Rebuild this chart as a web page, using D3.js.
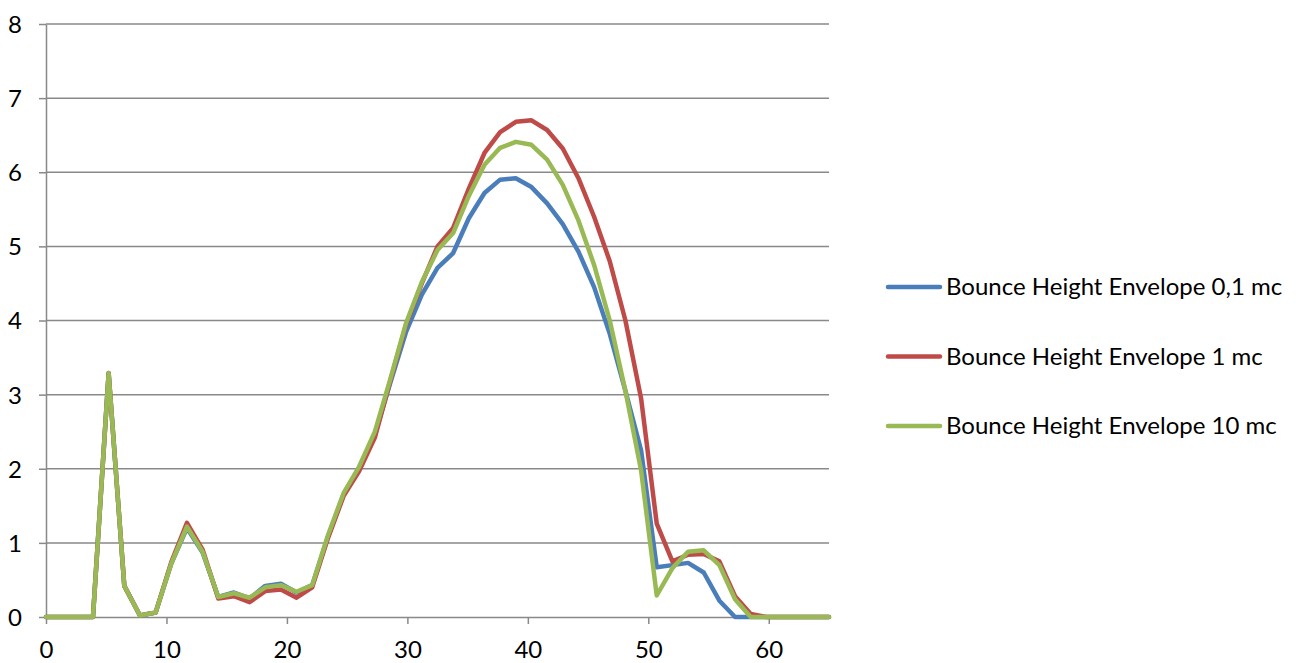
<!DOCTYPE html>
<html>
<head>
<meta charset="utf-8">
<script src="https://cdn.jsdelivr.net/npm/d3@7"></script>
<style>
    body { margin: 0; background: #fff; }
    svg { display: block; font-family: Lato, "Noto Sans", sans-serif; }
    .grid line { stroke: #898989; stroke-width: 1.5; }
    .axis path, .axis line { stroke: #898989; stroke-width: 1.5; }
    .axis text { font-family: Lato, "Noto Sans", sans-serif; font-size: 24px; fill: #000; }
    .legend text { font-size: 24px; fill: #000; }
</style>
</head>
<body>
<svg id="chart" width="1304" height="663"></svg>
<script>
// x positions: one sample every 1.3 units, 0 .. 65
var step = 1.3;
var seriesNames = ["Bounce Height Envelope 0,1 mc", "Bounce Height Envelope 1 mc", "Bounce Height Envelope 10 mc"];
var seriesColors = ["#4a7ebb", "#be4b48", "#98b954"];

var env01 = [0, 0, 0, 0, 3.29, 0.42, 0.02, 0.06, 0.72, 1.2, 0.87, 0.27, 0.33, 0.25, 0.42, 0.45,
    0.33, 0.43, 1.08, 1.65, 2.02, 2.46, 3.17, 3.85, 4.35, 4.71, 4.91, 5.38, 5.72, 5.9,
    5.92, 5.8, 5.58, 5.3, 4.93, 4.45, 3.82, 3.05, 2.25, 0.67, 0.7, 0.73, 0.6, 0.22, 0,
    0, 0, 0, 0, 0, 0];
var env1 = [0, 0, 0, 0, 3.29, 0.42, 0.02, 0.06, 0.74, 1.27, 0.91, 0.25, 0.28, 0.2, 0.35, 0.37,
    0.26, 0.4, 1.06, 1.63, 1.97, 2.42, 3.2, 3.95, 4.5, 5.0, 5.25, 5.78, 6.26, 6.54,
    6.68, 6.7, 6.57, 6.32, 5.92, 5.4, 4.8, 4.0, 2.95, 1.26, 0.75, 0.84, 0.85, 0.75, 0.28,
    0.04, 0, 0, 0, 0, 0];
var env10 = [0, 0, 0, 0, 3.29, 0.42, 0.02, 0.06, 0.72, 1.22, 0.88, 0.27, 0.32, 0.26, 0.4, 0.43,
    0.34, 0.43, 1.1, 1.67, 2.03, 2.5, 3.22, 3.97, 4.52, 4.95, 5.18, 5.68, 6.1, 6.33,
    6.41, 6.37, 6.17, 5.83, 5.35, 4.75, 4.0, 3.05, 1.98, 0.29, 0.66, 0.88, 0.9, 0.7, 0.24,
    0, 0, 0, 0, 0, 0];

var xTicks = [0, 10, 20, 30, 40, 50, 60];
var yTicks = [0, 1, 2, 3, 4, 5, 6, 7, 8];

var svg = d3.select("#chart");
var margin = {left: 46, right: 475, top: 24, bottom: 46};
var width = +svg.attr("width") - margin.left - margin.right;
var height = +svg.attr("height") - margin.top - margin.bottom;

var x = d3.scaleLinear().domain([0, 65]).range([0, width]);
var y = d3.scaleLinear().domain([0, 8]).range([height, 0]);

var g = svg.append("g").attr("transform", "translate(" + margin.left + "," + margin.top + ")");

// horizontal gridlines
g.append("g").attr("class", "grid")
    .selectAll("line").data(yTicks.slice(1)).enter().append("line")
    .attr("x1", 0).attr("x2", width)
    .attr("y1", function (d) { return y(d); })
    .attr("y2", function (d) { return y(d); });

var yAxis = g.append("g").attr("class", "axis")
    .call(d3.axisLeft(y).tickValues(yTicks).tickSize(7).tickPadding(17).tickSizeOuter(0));
yAxis.selectAll("text").attr("dy", "0.35em");

var xAxis = g.append("g").attr("class", "axis")
    .attr("transform", "translate(0," + height + ")")
    .call(d3.axisBottom(x).tickValues(xTicks).tickSize(7).tickPadding(17).tickSizeOuter(0));

var line = d3.line()
    .x(function (d, i) { return x(i * step); })
    .y(function (d) { return y(d); });

var allSeries = [env01, env1, env10];
g.selectAll(".series").data(allSeries).enter().append("path")
    .attr("class", "series")
    .attr("d", line)
    .attr("fill", "none")
    .attr("stroke", function (d, i) { return seriesColors[i]; })
    .attr("stroke-width", 4.5)
    .attr("stroke-linejoin", "round")
    .attr("stroke-linecap", "round");

// legend
var legend = svg.append("g").attr("class", "legend")
    .attr("transform", "translate(888,287)");
var item = legend.selectAll("g").data(seriesNames).enter().append("g")
    .attr("transform", function (d, i) { return "translate(0," + (i * 69.5) + ")"; });
item.append("line")
    .attr("x1", 0).attr("x2", 52)
    .attr("stroke", function (d, i) { return seriesColors[i]; })
    .attr("stroke-width", 4.5)
    .attr("stroke-linecap", "round");
item.append("text")
    .attr("x", 58).attr("dy", "0.35em")
    .text(function (d) { return d; });
</script>
</body>
</html>
